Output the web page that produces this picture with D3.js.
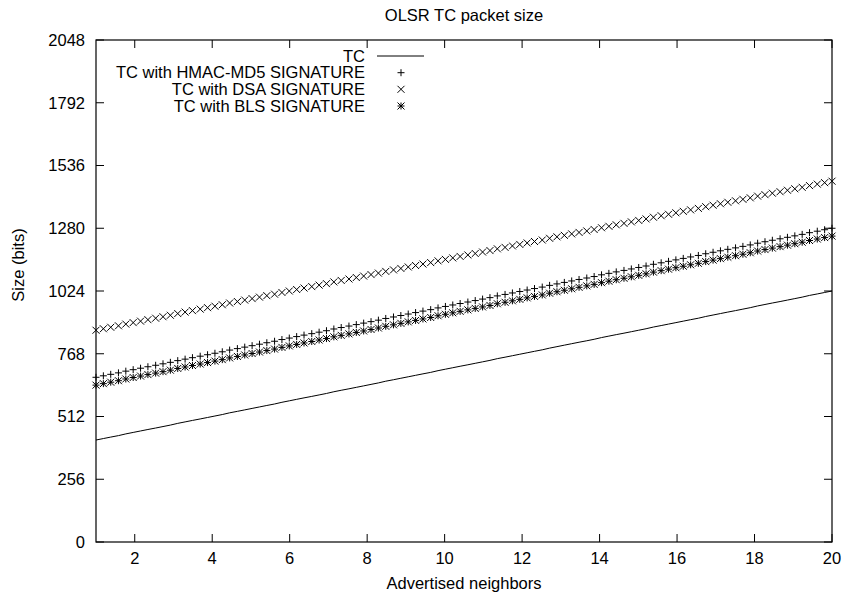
<html>
<head>
<title>OLSR TC packet size</title>
<script src="https://cdnjs.cloudflare.com/ajax/libs/d3/7.8.5/d3.min.js"></script>
<style>
  body { margin: 0; background: #fff; }
  text { font-family: "Liberation Sans", Arial, sans-serif; font-size: 16.5px; fill: #000; }
</style>
</head>
<body>
<svg width="844" height="600"></svg>
<script>
// advertised neighbors (gnuplot samples between 1 and 20)
var neighbors = [1.00,1.19,1.38,1.58,1.77,1.96,2.15,2.34,2.54,2.73,
  2.92,3.11,3.30,3.49,3.69,3.88,4.07,4.26,4.45,4.65,
  4.84,5.03,5.22,5.41,5.61,5.80,5.99,6.18,6.37,6.57,
  6.76,6.95,7.14,7.33,7.53,7.72,7.91,8.10,8.29,8.48,
  8.68,8.87,9.06,9.25,9.44,9.64,9.83,10.02,10.21,10.40,
  10.60,10.79,10.98,11.17,11.36,11.56,11.75,11.94,12.13,12.32,
  12.52,12.71,12.90,13.09,13.28,13.47,13.67,13.86,14.05,14.24,
  14.43,14.63,14.82,15.01,15.20,15.39,15.59,15.78,15.97,16.16,
  16.35,16.55,16.74,16.93,17.12,17.31,17.51,17.70,17.89,18.08,
  18.27,18.46,18.66,18.85,19.04,19.23,19.42,19.62,19.81,20.00];

var sizeTC = [416,422,428,434,441,447,453,459,465,471,
  477,484,490,496,502,508,514,520,527,533,
  539,545,551,557,563,570,576,582,588,594,
  600,606,613,619,625,631,637,643,649,656,
  662,668,674,680,686,692,699,705,711,717,
  723,729,735,741,748,754,760,766,772,778,
  784,791,797,803,809,815,821,827,834,840,
  846,852,858,864,870,877,883,889,895,901,
  907,913,920,926,932,938,944,950,956,963,
  969,975,981,987,993,999,1006,1012,1018,1024];

var sizeHMAC = [672,678,684,690,697,703,709,715,721,727,
  733,740,746,752,758,764,770,776,783,789,
  795,801,807,813,819,826,832,838,844,850,
  856,862,869,875,881,887,893,899,905,912,
  918,924,930,936,942,948,955,961,967,973,
  979,985,991,997,1004,1010,1016,1022,1028,1034,
  1040,1047,1053,1059,1065,1071,1077,1083,1090,1096,
  1102,1108,1114,1120,1126,1133,1139,1145,1151,1157,
  1163,1169,1176,1182,1188,1194,1200,1206,1212,1219,
  1225,1231,1237,1243,1249,1255,1262,1268,1274,1280];

var sizeDSA = [864,870,876,882,889,895,901,907,913,919,
  925,932,938,944,950,956,962,968,975,981,
  987,993,999,1005,1011,1018,1024,1030,1036,1042,
  1048,1054,1061,1067,1073,1079,1085,1091,1097,1104,
  1110,1116,1122,1128,1134,1140,1147,1153,1159,1165,
  1171,1177,1183,1189,1196,1202,1208,1214,1220,1226,
  1232,1239,1245,1251,1257,1263,1269,1275,1282,1288,
  1294,1300,1306,1312,1318,1325,1331,1337,1343,1349,
  1355,1361,1368,1374,1380,1386,1392,1398,1404,1411,
  1417,1423,1429,1435,1441,1447,1454,1460,1466,1472];

var sizeBLS = [640,646,652,658,665,671,677,683,689,695,
  701,708,714,720,726,732,738,744,751,757,
  763,769,775,781,787,794,800,806,812,818,
  824,830,837,843,849,855,861,867,873,880,
  886,892,898,904,910,916,923,929,935,941,
  947,953,959,965,972,978,984,990,996,1002,
  1008,1015,1021,1027,1033,1039,1045,1051,1058,1064,
  1070,1076,1082,1088,1094,1101,1107,1113,1119,1125,
  1131,1137,1144,1150,1156,1162,1168,1174,1180,1187,
  1193,1199,1205,1211,1217,1223,1230,1236,1242,1248];

var xTicks = [2,4,6,8,10,12,14,16,18,20];
var yTicks = [0,256,512,768,1024,1280,1536,1792,2048];

var seriesNames = ["TC", "TC with HMAC-MD5 SIGNATURE", "TC with DSA SIGNATURE", "TC with BLS SIGNATURE"];

// plot box (window.top is taken, so own names)
var plotL = 96, plotR = 832, plotT = 40, plotB = 542;
var svg = d3.select("svg");

var x = d3.scaleLinear().domain([1, 20]).range([plotL, plotR]);
var y = d3.scaleLinear().domain([0, 2048]).range([plotB, plotT]);

// marker shapes like gnuplot point types 1,2,3
var s = 3.5;
var plusPath = "M" + (-s) + ",0H" + s + "M0," + (-s) + "V" + s;
var crossPath = "M" + (-s) + "," + (-s) + "L" + s + "," + s + "M" + (-s) + "," + s + "L" + s + "," + (-s);
var starPath = plusPath + crossPath;

// ticks (inward, mirrored)
var tl = 8;
var tickG = svg.append("g").attr("stroke", "#000").attr("stroke-width", 1);
xTicks.forEach(function(t) {
  tickG.append("line").attr("x1", x(t)).attr("x2", x(t)).attr("y1", plotB).attr("y2", plotB - tl);
  tickG.append("line").attr("x1", x(t)).attr("x2", x(t)).attr("y1", plotT).attr("y2", plotT + tl);
});
yTicks.forEach(function(t) {
  tickG.append("line").attr("x1", plotL).attr("x2", plotL + tl).attr("y1", y(t)).attr("y2", y(t));
  tickG.append("line").attr("x1", plotR).attr("x2", plotR - tl).attr("y1", y(t)).attr("y2", y(t));
});

svg.selectAll("text.xt").data(xTicks).enter().append("text")
  .attr("class", "xt")
  .attr("x", d => x(d)).attr("y", plotB + 16).attr("dy", "0.35em")
  .attr("text-anchor", "middle").text(d => d);

svg.selectAll("text.yt").data(yTicks).enter().append("text")
  .attr("class", "yt")
  .attr("x", plotL - 11).attr("y", d => y(d)).attr("dy", "0.35em")
  .attr("text-anchor", "end").text(d => d);

// border
svg.append("rect").attr("x", plotL).attr("y", plotT)
  .attr("width", plotR - plotL).attr("height", plotB - plotT)
  .attr("fill", "none").attr("stroke", "#000").attr("stroke-width", 1.2);

// titles
svg.append("text").attr("x", (plotL + plotR) / 2).attr("y", 15).attr("dy", "0.35em")
  .attr("text-anchor", "middle").text("OLSR TC packet size");
svg.append("text").attr("x", (plotL + plotR) / 2).attr("y", 583).attr("dy", "0.35em")
  .attr("text-anchor", "middle").text("Advertised neighbors");
svg.append("text").attr("transform", "translate(18,265) rotate(-90)").attr("dy", "0.35em")
  .attr("text-anchor", "middle").text("Size (bits)");

// TC line
var line = d3.line().x((d, i) => x(neighbors[i])).y(d => y(d));
svg.append("path").datum(sizeTC).attr("d", line)
  .attr("fill", "none").attr("stroke", "#000").attr("stroke-width", 1);

function drawPoints(vals, path) {
  svg.append("g").selectAll("path").data(vals).enter().append("path")
    .attr("transform", (d, i) => "translate(" + x(neighbors[i]) + "," + y(d) + ")")
    .attr("d", path)
    .attr("fill", "none").attr("stroke", "#000").attr("stroke-width", 1);
}
drawPoints(sizeHMAC, plusPath);
drawPoints(sizeDSA, crossPath);
drawPoints(sizeBLS, starPath);

// legend
var legY = [56, 72.7, 89.3, 106];
var legendShapes = [null, plusPath, crossPath, starPath];
seriesNames.forEach(function(name, i) {
  svg.append("text").attr("x", 365).attr("y", legY[i]).attr("dy", "0.35em")
    .attr("text-anchor", "end").text(name);
  if (legendShapes[i] === null) {
    svg.append("line").attr("x1", 377).attr("x2", 424).attr("y1", legY[i]).attr("y2", legY[i])
      .attr("stroke", "#000").attr("stroke-width", 1);
  } else {
    svg.append("path").attr("transform", "translate(401," + legY[i] + ")")
      .attr("d", legendShapes[i]).attr("fill", "none").attr("stroke", "#000").attr("stroke-width", 1);
  }
});
</script>
</body>
</html>
